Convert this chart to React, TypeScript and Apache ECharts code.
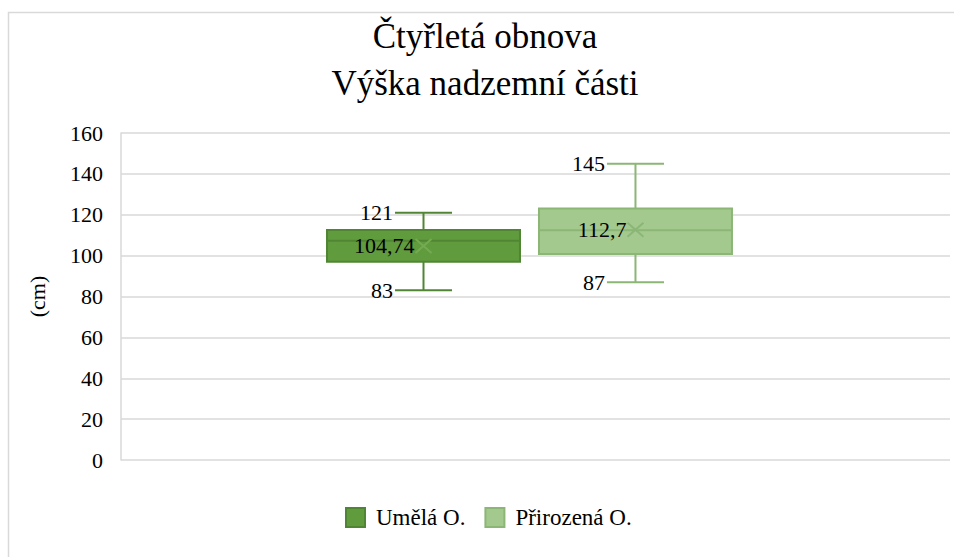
import React, { useEffect, useRef } from "react";
import * as echarts from "echarts";

// ---- data ----
const titleLines = ["Čtyřletá obnova", "Výška nadzemní části"];
const yAxisName = "(cm)";
const yMin = 0;
const yMax = 160;
const yInterval = 20;
const groups = ["Umělá O.", "Přirozená O."];
const minValues = [83, 87];
const q1Values = [97, 100.8];
const medianValues = [107.3, 112.4];
const q3Values = [112.5, 123];
const maxValues = [121, 145];
const meanValues = [104.74, 112.7];
const meanLabels = ["104,74", "112,7"];

// ---- styles ----
const FONT = '"Liberation Serif", "Times New Roman", serif';
const fills = ["#609b3e", "#a4c98f"];
const strokes = ["#508633", "#8bb675"];
const markColors = ["#74ab52", "#8ab678"];
const offsets = [-0.1351, 0.1206]; // box centre offset, fraction of band
const boxFrac = 0.2328;
const capFrac = 0.0688;

export default function App() {
  const ref = useRef<HTMLDivElement>(null);
  useEffect(() => {
    if (!ref.current) return;
    const chart = echarts.init(ref.current, undefined, { renderer: "svg" });

    const renderItem = (params: any, api: any) => {
      const i = params.seriesIndex;
      const band = api.size([1, 0])[0];
      const base = api.coord([0, 0]);
      const cx = base[0] + offsets[i] * band;
      const y = (v: number) => api.coord([0, v])[1];
      const hw = (boxFrac * band) / 2;
      const cw = (capFrac * band) / 2;
      const yMinP = y(api.value(1));
      const yQ1 = y(api.value(2));
      const yMed = y(api.value(3));
      const yQ3 = y(api.value(4));
      const yMaxP = y(api.value(5));
      const yMean = y(api.value(6));
      const ls = { stroke: strokes[i], lineWidth: 2 };
      const txt = (text: string, x: number, yy: number) => ({
        type: "text",
        z2: 10,
        style: {
          text,
          x,
          y: yy,
          align: "right",
          verticalAlign: "middle",
          fontFamily: FONT,
          fontSize: 22,
          fill: "#000",
        },
      });
      return {
        type: "group",
        children: [
          { type: "line", shape: { x1: cx, y1: yQ3, x2: cx, y2: yMaxP }, style: ls },
          { type: "line", shape: { x1: cx - cw, y1: yMaxP, x2: cx + cw, y2: yMaxP }, style: ls },
          { type: "line", shape: { x1: cx, y1: yQ1, x2: cx, y2: yMinP }, style: ls },
          { type: "line", shape: { x1: cx - cw, y1: yMinP, x2: cx + cw, y2: yMinP }, style: ls },
          {
            type: "rect",
            shape: { x: cx - hw, y: yQ3, width: 2 * hw, height: yQ1 - yQ3 },
            style: { fill: fills[i], stroke: strokes[i], lineWidth: 2 },
          },
          { type: "line", shape: { x1: cx - hw, y1: yMed, x2: cx + hw, y2: yMed }, style: ls },
          {
            type: "line",
            shape: { x1: cx - 8, y1: yMean - 7, x2: cx + 8, y2: yMean + 7 },
            style: { stroke: markColors[i], lineWidth: 2 },
          },
          {
            type: "line",
            shape: { x1: cx - 8, y1: yMean + 7, x2: cx + 8, y2: yMean - 7 },
            style: { stroke: markColors[i], lineWidth: 2 },
          },
          txt(String(api.value(5)), cx - cw - 2, yMaxP),
          txt(String(api.value(1)), cx - cw - 2, yMinP),
          txt(meanLabels[i], cx - 9, yMean),
        ],
      };
    };

    const series = groups.map((name, i) => ({
      name,
      type: "custom",
      renderItem,
      encode: { x: 0, y: [1, 2, 3, 4, 5, 6] },
      itemStyle: { color: fills[i], borderColor: strokes[i], borderWidth: 1.5 },
      data: [[0, minValues[i], q1Values[i], medianValues[i], q3Values[i], maxValues[i], meanValues[i]]],
    }));

    chart.setOption({
      animation: false,
      textStyle: { fontFamily: FONT },
      graphic: [
        {
          type: "rect",
          silent: true,
          z: -10,
          shape: { x: 8.5, y: 12.5, width: 1200, height: 1200 },
          style: { fill: "none", stroke: "#d9d9d9", lineWidth: 1.5 },
        },
        {
          type: "text",
          x: 485,
          y: 36,
          style: {
            text: titleLines[0],
            align: "center",
            verticalAlign: "middle",
            fontFamily: FONT,
            fontSize: 35,
            fill: "#000",
          },
        },
        {
          type: "text",
          x: 485,
          y: 83,
          style: {
            text: titleLines[1],
            align: "center",
            verticalAlign: "middle",
            fontFamily: FONT,
            fontSize: 35,
            fill: "#000",
          },
        },
      ],
      grid: { left: 121, top: 133, right: 4, bottom: 97, containLabel: false },
      legend: {
        data: groups,
        icon: "rect",
        itemWidth: 19,
        itemHeight: 19,
        itemGap: 19,
        padding: 0,
        left: 345,
        top: 506,
        textStyle: { fontFamily: FONT, fontSize: 23, color: "#000", padding: [0, 0, 0, 6] },
      },
      xAxis: {
        type: "category",
        data: [""],
        axisLine: { show: false },
        axisTick: { show: false },
        axisLabel: { show: false },
        splitLine: { show: false },
      },
      yAxis: {
        type: "value",
        min: yMin,
        max: yMax,
        interval: yInterval,
        name: yAxisName,
        nameLocation: "middle",
        nameGap: 73,
        nameTextStyle: { fontFamily: FONT, fontSize: 22, color: "#000" },
        axisLine: { show: true, lineStyle: { color: "#d9d9d9", width: 1.5 } },
        axisTick: { show: false },
        axisLabel: { fontFamily: FONT, fontSize: 22, color: "#000", margin: 18 },
        splitLine: { show: true, lineStyle: { color: "#d9d9d9", width: 1.5 } },
      },
      series,
    });
    return () => chart.dispose();
  }, []);
  return (
    <div
      ref={ref}
      style={{ position: "fixed", left: 0, top: 0, width: 954, height: 557, background: "#fff" }}
    />
  );
}
